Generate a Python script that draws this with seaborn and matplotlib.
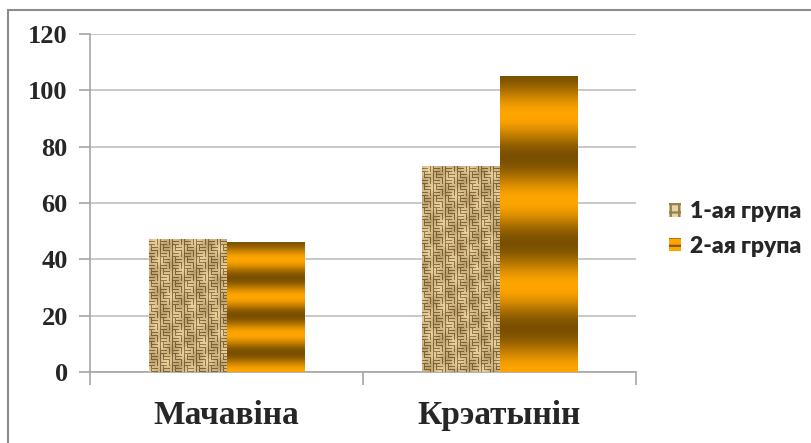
import numpy as np
import pandas as pd
import matplotlib
matplotlib.use("Agg")
import matplotlib.pyplot as plt
import seaborn as sns
from matplotlib.patches import Patch, Rectangle
from matplotlib.colors import to_rgb

categories = ["Мачавіна", "Крэатынін"]
series = ["1-ая група", "2-ая група"]
group1 = [47, 73]
group2 = [46, 105]
y_ticks = [0, 20, 40, 60, 80, 100, 120]

df = pd.DataFrame({
    "показчык": categories * 2,
    "значэнне": group1 + group2,
    "група": [series[0]] * len(categories) + [series[1]] * len(categories),
})

sns.set_style("white")
plt.rcParams["hatch.linewidth"] = 1.6

W, H = 812, 443
fig = plt.figure(figsize=(W / 100, H / 100), dpi=100)
ax = fig.add_axes([90 / W, 1 - 372 / H, (636 - 90) / W, (372 - 34) / H])

sns.barplot(data=df, x="показчык", y="значэнне", hue="група",
            palette=["#C9AC74", "#FFA500"], width=0.57, gap=0,
            saturation=1, legend=False, ax=ax, zorder=2)

ax.set_xlim(-0.5, len(categories) - 0.5)
ax.set_ylim(0, 120)


def burlap(h, w):
    """Woven sackcloth texture: blocks of horizontal and vertical threads."""
    yy, xx = np.mgrid[0:h, 0:w]
    blk = 6
    row = yy // blk
    col = (xx + (row % 2) * 3) // blk
    kind = (row + col) % 2
    hs = ((yy % 3) != 2).astype(float)
    vs = ((xx % 3) != 2).astype(float)
    thread = np.where(kind == 0, hs, vs)
    mott = 0.5 + 0.5 * np.sin(xx * 0.23 + yy * 0.11) * np.cos(xx * 0.07 - yy * 0.19)
    v = np.clip(0.68 * thread + 0.4 * mott - 0.16, 0, 1)[..., None]
    dark = np.array(to_rgb("#7E6036"))
    light = np.array(to_rgb("#F2DAA2"))
    return dark + (light - dark) * v


def gold(n):
    t = np.linspace(0, 1, n)
    b = (1 + np.cos(2 * np.pi * (t - 0.13) / 0.29)) / 2
    dark = np.array(to_rgb("#7A5000"))
    bright = np.array(to_rgb("#FFA500"))
    return (dark + (bright - dark) * b[:, None])[:, None, :]


for k, cont in enumerate(ax.containers):
    for bar in cont:
        x0, y0 = bar.get_x(), bar.get_y()
        bw, bh = bar.get_width(), bar.get_height()
        ext = ax.transData.transform([[x0, y0], [x0 + bw, y0 + bh]])
        pw = max(int(round(abs(ext[1, 0] - ext[0, 0]))), 2)
        ph = max(int(round(abs(ext[1, 1] - ext[0, 1]))), 2)
        img = burlap(ph, pw) if k == 0 else gold(ph)
        ax.imshow(img, extent=(x0, x0 + bw, y0, y0 + bh), origin="upper",
                  aspect="auto", interpolation="nearest" if k == 0 else "bilinear",
                  zorder=3)

ax.set_xlim(-0.5, len(categories) - 0.5)
ax.set_ylim(0, 120)
ax.set_aspect("auto")

grid_c = "#BFBFBF"
ax.set_yticks(y_ticks)
ax.set_yticklabels([str(v) for v in y_ticks])
ax.yaxis.grid(True, color=grid_c, linewidth=1.2, zorder=0)
ax.set_axisbelow(True)
for s in ["top", "right"]:
    ax.spines[s].set_visible(False)
for s in ["left", "bottom"]:
    ax.spines[s].set_color("#A6A6A6")
    ax.spines[s].set_linewidth(1.2)

ax.tick_params(axis="y", which="major", length=8, width=1.2, color="#A6A6A6",
               pad=8, left=True)
ax.set_xticks(range(len(categories)))
ax.set_xticklabels(categories)
ax.set_xticks(np.arange(-0.5, len(categories)), minor=True)
ax.tick_params(axis="x", which="major", length=0, pad=20)
ax.tick_params(axis="x", which="minor", length=9, width=1.2, color="#A6A6A6", bottom=True)
ax.set_xlabel("")
ax.set_ylabel("")

for lab in ax.get_yticklabels():
    lab.set_fontfamily("Liberation Serif")
    lab.set_fontweight("bold")
    lab.set_fontsize(19)
for lab in ax.get_xticklabels():
    lab.set_fontfamily("Liberation Serif")
    lab.set_fontweight("bold")
    lab.set_fontsize(24)

handles = [
    Patch(facecolor="#E6D2A2", edgecolor="#9A7E4E", hatch="++", linewidth=0),
    Patch(facecolor="#FFA500", edgecolor="#8B5A00", hatch="--", linewidth=0),
]
fig.legend(handles, series, loc="center left",
           bbox_to_anchor=(660 / W, 1 - 229 / H), frameon=False,
           prop={"family": "Lato", "weight": "heavy", "size": 16.5},
           handlelength=0.5, handleheight=0.5, handletextpad=0.4,
           labelspacing=0.6, borderaxespad=0)

# outer frame around the chart area
frame = Rectangle((8 / W, -0.1), 1.2, 1 - 10 / H + 0.1, transform=fig.transFigure,
                  fill=False, edgecolor="#8C8C8C", linewidth=1.5, zorder=0)
fig.patches.append(frame)

fig.savefig("out.png", dpi=100)
